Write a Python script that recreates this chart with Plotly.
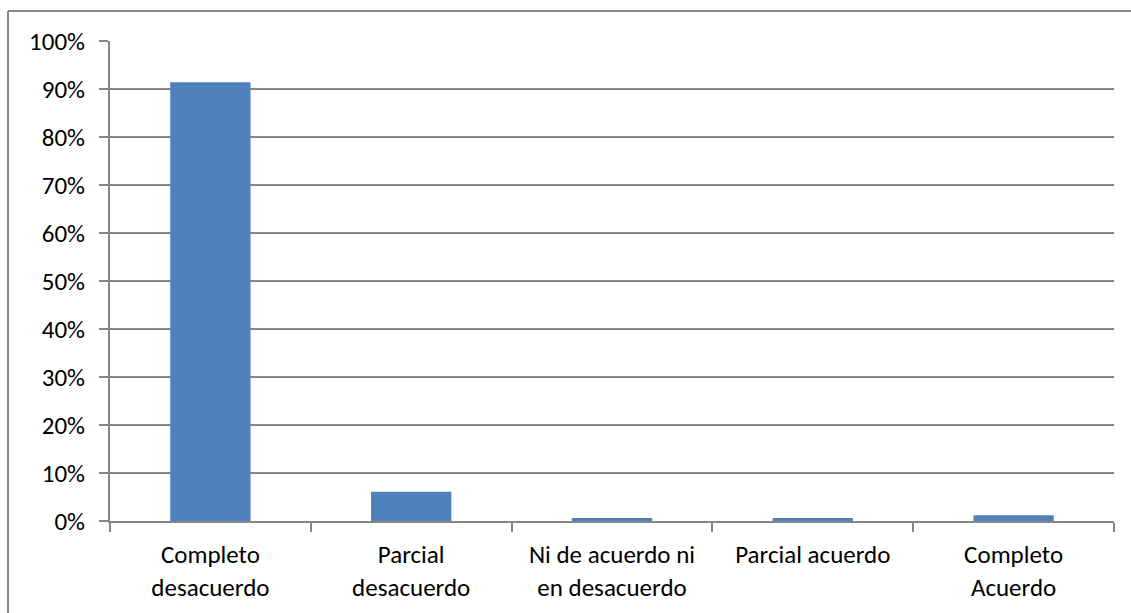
import plotly.graph_objects as go

# Survey response categories and share of responses
categories = [
    "Completo<br>desacuerdo",
    "Parcial<br>desacuerdo",
    "Ni de acuerdo ni<br>en desacuerdo",
    "Parcial acuerdo",
    "Completo<br>Acuerdo",
]
shares = [0.914, 0.061, 0.006, 0.006, 0.012]

y_ticks = [i / 10 for i in range(11)]
y_tick_labels = [f"{i * 10}%" for i in range(11)]

BAR_COLOR = "#4F81BD"
GRID_COLOR = "#868686"
FONT = dict(family="Carlito, Calibri, Lato, sans-serif", size=25, color="#000000")

fig = go.Figure(
    go.Bar(
        x=categories,
        y=shares,
        marker=dict(color=BAR_COLOR, line=dict(width=0)),
        hoverinfo="x+y",
    )
)

fig.update_layout(
    width=1131,
    height=613,
    margin=dict(l=110, r=17, t=41, b=92),
    paper_bgcolor="white",
    plot_bgcolor="white",
    bargap=0.6,
    showlegend=False,
    font=FONT,
)

fig.update_xaxes(
    type="category",
    automargin=False,
    showgrid=False,
    showline=True,
    linecolor=GRID_COLOR,
    linewidth=2,
    ticks="outside",
    tickson="boundaries",
    ticklen=9,
    tickwidth=2,
    tickcolor=GRID_COLOR,
    tickfont=FONT,
    ticklabelstandoff=10,
)

fig.update_yaxes(
    range=[0, 1],
    automargin=False,
    tickvals=y_ticks,
    ticktext=y_tick_labels,
    showgrid=True,
    gridcolor=GRID_COLOR,
    gridwidth=2,
    showline=True,
    linecolor=GRID_COLOR,
    linewidth=2,
    ticks="outside",
    ticklen=9,
    tickwidth=2,
    tickcolor=GRID_COLOR,
    tickfont=FONT,
    ticklabelstandoff=9,
    zeroline=False,
)

# Chart-area frame (top and left edges visible)
fig.add_shape(
    type="line", xref="paper", yref="paper",
    x0=-0.1016, x1=1.2, y0=1.0625, y1=1.0625,
    line=dict(color=GRID_COLOR, width=2), layer="below",
)
fig.add_shape(
    type="line", xref="paper", yref="paper",
    x0=-0.1016, x1=-0.1016, y0=1.0625, y1=-0.3,
    line=dict(color=GRID_COLOR, width=2), layer="below",
)

fig.write_html("out.html")
